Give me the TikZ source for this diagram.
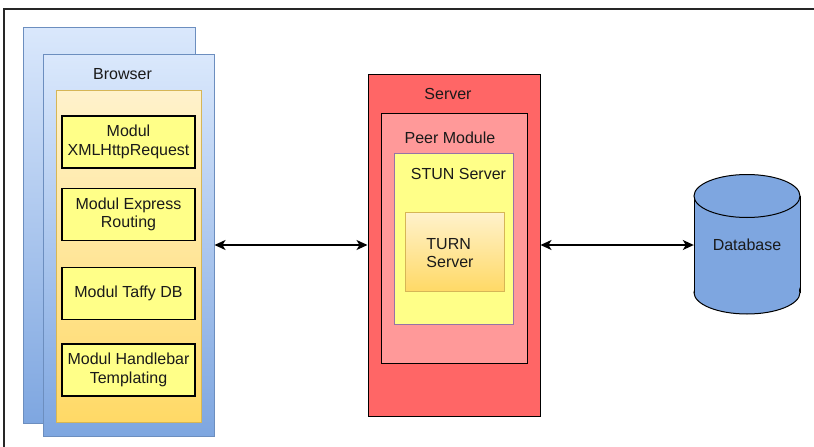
\documentclass[tikz,border=0pt]{standalone}
\usepackage{fontspec}
\setmainfont{Liberation Sans}
\usetikzlibrary{arrows.meta}
\definecolor{blueT}{HTML}{DAE8FC}
\definecolor{blueB}{HTML}{7EA6E0}
\definecolor{blueBd}{HTML}{6C8EBF}
\definecolor{orgT}{HTML}{FFF2CC}
\definecolor{orgB}{HTML}{FFD966}
\definecolor{orgBd}{HTML}{D6B656}
\definecolor{yel}{HTML}{FFFF88}
\definecolor{srvRed}{HTML}{FF6666}
\definecolor{peerRed}{HTML}{FF9999}
\definecolor{purp}{HTML}{9673A6}
\definecolor{dbBlue}{HTML}{7EA6E0}
\definecolor{txt}{HTML}{1A1A1A}
\begin{document}
\begin{tikzpicture}[x=1pt,y=-1pt,
  every node/.style={font=\fontsize{16}{18.5}\selectfont, text=txt},
  sz/.style 2 args={rectangle, inner sep=0pt, minimum width=#1pt, minimum height=#2pt},
  bluebox/.style={draw=blueBd, line width=1pt, top color=blueT, bottom color=blueB},
  orgbox/.style={draw=orgBd, line width=1pt, top color=orgT, bottom color=orgB},
  modbox/.style={draw=black, line width=1.3pt, fill=yel, align=center},
  lbl/.style={inner sep=0pt},
  arr/.style={line width=1.4pt, {Stealth[length=11pt,width=10pt,inset=3pt]}-{Stealth[length=11pt,width=10pt,inset=3pt]}}
]
\useasboundingbox (0,0) rectangle (814,447);
% outer frame
\draw[line width=2pt, black!85] (4,450) -- (4,9) -- (820,9);

% Browser
\node[bluebox, sz={172}{396}] (bb) at (109,225) {};
\node[bluebox, sz={171}{382}] (fb) at (128.5,245) {};
\node[lbl] (blbl) at (122.5,74) {Browser};
\node[orgbox, sz={145}{332}] (ob) at (128.5,256) {};
\node[modbox, sz={133}{52}] (m1) at (128.5,142) {Modul\\XMLHttpRequest};
\node[modbox, sz={133}{52}] (m2) at (128.5,214.5) {Modul Express\\Routing};
\node[modbox, sz={133}{52}] (m3) at (128.5,293.5) {Modul Taffy DB};
\node[modbox, sz={133}{52}] (m4) at (128.5,370) {Modul Handlebar\\Templating};

% Server
\node[draw=black, line width=1pt, fill=srvRed, sz={172}{342}] (srv) at (454,245) {};
\node[lbl] (slbl) at (448,94) {Server};
\node[draw=black, line width=1pt, fill=peerRed, sz={146}{250}] (peer) at (454,238) {};
\node[lbl] (plbl) at (450,138) {Peer Module};
\node[draw=purp, line width=1pt, fill=yel, sz={119}{171}] (stun) at (453.5,238.5) {};
\node[lbl] (stlbl) at (458.5,174) {STUN Server};
\node[orgbox, sz={99}{79}] (turn) at (454.5,251.5) {};
\node[lbl, align=left] (tlbl) at (450,253) {TURN\\Server};

% Database cylinder
\fill[dbBlue] (694,196) rectangle (800,292.5);
\filldraw[fill=dbBlue, draw=black, line width=1pt] (747,292.5) ellipse [x radius=53pt, y radius=21.5pt];
\fill[dbBlue] (694.6,196) rectangle (799.4,292.5);
\draw[black, line width=1pt] (694,196) -- (694,292.5) (800,196) -- (800,292.5);
\filldraw[fill=dbBlue, draw=black, line width=1pt] (747,196) ellipse [x radius=53pt, y radius=21.5pt];
\node[sz={106}{20}] (db) at (747,245) {Database};

% connectors
\draw[arr] (fb) -- (srv);
\draw[arr] (srv) -- (db);
\end{tikzpicture}
\end{document}
